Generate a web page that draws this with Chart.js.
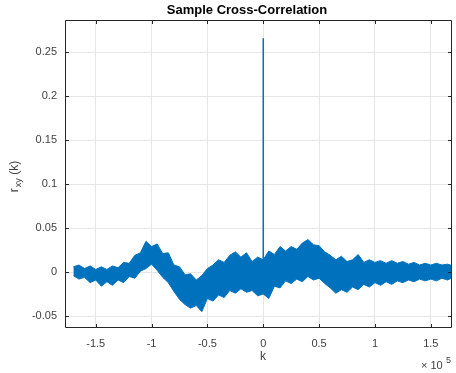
<!DOCTYPE html>
<html>
<head>
<meta charset="utf-8">
<script src="https://cdn.jsdelivr.net/npm/chart.js@4.4.1/dist/chart.umd.min.js"></script>
<style>
  html, body { margin: 0; padding: 0; background: #fff; }
  canvas { display: block; }
</style>
</head>
<body>
<canvas id="grafico" width="456" height="373"></canvas>
<script>
// lags in units of 1e5, envelope of r_xy(k)
const lags = [-1.70,-1.65,-1.60,-1.55,-1.50,-1.45,-1.40,-1.35,-1.30,-1.25,-1.20,-1.15,-1.10,-1.05,-1.00,-0.95,-0.90,-0.85,-0.80,-0.75,-0.70,-0.65,-0.60,-0.55,-0.50,-0.45,-0.40,-0.35,-0.30,-0.25,-0.20,-0.15,-0.10,-0.05,0.00,0.05,0.10,0.15,0.20,0.25,0.30,0.35,0.40,0.45,0.50,0.55,0.60,0.65,0.70,0.75,0.80,0.85,0.90,0.95,1.00,1.05,1.10,1.15,1.20,1.25,1.30,1.35,1.40,1.45,1.50,1.55,1.60,1.65,1.70];
const rUpper = [0.006,0.008,0.004,0.007,0.003,0.006,0.003,0.007,0.005,0.011,0.010,0.019,0.022,0.035,0.029,0.032,0.021,0.022,0.008,0.006,-0.003,-0.002,-0.009,-0.004,0.004,0.008,0.014,0.011,0.019,0.023,0.017,0.022,0.012,0.017,0.014,0.024,0.020,0.029,0.024,0.029,0.026,0.033,0.037,0.031,0.030,0.023,0.019,0.014,0.018,0.012,0.014,0.020,0.011,0.014,0.011,0.013,0.010,0.013,0.010,0.012,0.009,0.011,0.008,0.010,0.008,0.010,0.008,0.009,0.007];
const rLower = [-0.004,-0.008,-0.006,-0.012,-0.009,-0.016,-0.011,-0.015,-0.009,-0.012,-0.005,-0.007,0.001,0.004,0.009,0.002,-0.006,-0.012,-0.022,-0.031,-0.037,-0.041,-0.038,-0.045,-0.030,-0.033,-0.026,-0.029,-0.021,-0.024,-0.019,-0.023,-0.021,-0.027,-0.025,-0.030,-0.016,-0.018,-0.010,-0.013,-0.008,-0.011,-0.005,-0.009,-0.007,-0.013,-0.018,-0.024,-0.020,-0.023,-0.017,-0.020,-0.014,-0.017,-0.012,-0.015,-0.011,-0.014,-0.010,-0.012,-0.009,-0.011,-0.008,-0.010,-0.008,-0.010,-0.007,-0.009,-0.006];
// zero-lag peak
const picoLag = [0, 0];
const picoValor = [-0.025, 0.266];

const xTicks = [-1.5, -1, -0.5, 0, 0.5, 1, 1.5];
const yTicks = [-0.05, 0, 0.05, 0.1, 0.15, 0.2, 0.25];

const azul = '#0072BD';
const fonte = '"Liberation Sans", Arial, sans-serif';

const pontos = (xs, ys) => xs.map((x, i) => ({ x, y: ys[i] }));

// titulo, rotulos e marcas internas no estilo MATLAB
const extras = {
    id: 'extras',
    afterDraw(chart) {
        const { ctx, chartArea: a, scales } = chart;
        ctx.save();
        ctx.strokeStyle = '#262626';
        ctx.lineWidth = 1;
        ctx.beginPath();
        ctx.rect(a.left + 0.5, a.top + 0.5, a.right - a.left - 1, a.bottom - a.top - 1);
        ctx.stroke();
        ctx.beginPath();
        xTicks.forEach(v => {
            const px = Math.round(scales.x.getPixelForValue(v)) + 0.5;
            ctx.moveTo(px, a.bottom); ctx.lineTo(px, a.bottom - 4);
            ctx.moveTo(px, a.top); ctx.lineTo(px, a.top + 4);
        });
        yTicks.forEach(v => {
            const py = Math.round(scales.y.getPixelForValue(v)) + 0.5;
            ctx.moveTo(a.left, py); ctx.lineTo(a.left + 4, py);
            ctx.moveTo(a.right, py); ctx.lineTo(a.right - 4, py);
        });
        ctx.stroke();

        ctx.fillStyle = '#000';
        ctx.font = 'bold 13px ' + fonte;
        ctx.textAlign = 'center';
        ctx.textBaseline = 'middle';
        ctx.fillText('Sample Cross-Correlation', 247, 10);

        ctx.fillStyle = '#404040';
        ctx.font = '12px ' + fonte;
        ctx.fillText('k', 263, 357);

        ctx.font = '11px ' + fonte;
        ctx.textAlign = 'left';
        ctx.fillText('\u00d7 10', 421, 366);
        ctx.font = '9px ' + fonte;
        ctx.fillText('5', 446, 361);

        ctx.translate(15, 177);
        ctx.rotate(-Math.PI / 2);
        ctx.textAlign = 'left';
        ctx.font = '12px ' + fonte;
        const w1 = ctx.measureText('r').width;
        ctx.font = '9px ' + fonte;
        const w2 = ctx.measureText('xy').width;
        ctx.font = '12px ' + fonte;
        const w3 = ctx.measureText(' (k)').width;
        let x0 = -(w1 + w2 + w3) / 2;
        ctx.fillText('r', x0, 0);
        ctx.font = '9px ' + fonte;
        ctx.fillText('xy', x0 + w1 + 1, 4);
        ctx.font = '12px ' + fonte;
        ctx.fillText(' (k)', x0 + w1 + w2 + 1, 0);
        ctx.restore();
    }
};

new Chart(document.getElementById('grafico'), {
    type: 'line',
    data: {
        datasets: [
            {
                data: pontos(lags, rLower),
                borderColor: azul,
                borderWidth: 1,
                pointRadius: 0,
                fill: false
            },
            {
                data: pontos(lags, rUpper),
                borderColor: azul,
                backgroundColor: azul,
                borderWidth: 1,
                pointRadius: 0,
                fill: '-1'
            },
            {
                data: pontos(picoLag, picoValor),
                borderColor: azul,
                borderWidth: 1.5,
                pointRadius: 0,
                fill: false
            }
        ]
    },
    options: {
        responsive: false,
        animation: false,
        devicePixelRatio: 1,
        layout: { padding: { top: 20, right: 4, left: 0, bottom: 0 } },
        plugins: { legend: { display: false }, tooltip: { enabled: false } },
        scales: {
            x: {
                type: 'linear',
                min: -1.775,
                max: 1.69,
                afterFit: s => { s.height = 45; },
                border: { display: false },
                grid: { color: '#e5e5e5', drawTicks: false },
                ticks: {
                    stepSize: 0.5,
                    includeBounds: false,
                    padding: 9,
                    maxRotation: 0,
                    color: '#404040',
                    font: { family: fonte, size: 11 },
                    callback: v => xTicks.includes(+v.toFixed(2)) ? String(+v.toFixed(2)) : ''
                }
            },
            y: {
                min: -0.0636,
                max: 0.2867,
                afterFit: s => { s.width = 65; },
                border: { display: false },
                grid: { color: '#e5e5e5', drawTicks: false },
                ticks: {
                    stepSize: 0.05,
                    includeBounds: false,
                    padding: 8,
                    color: '#404040',
                    font: { family: fonte, size: 11 },
                    callback: v => String(+v.toFixed(3))
                }
            }
        }
    },
    plugins: [extras]
});
</script>
</body>
</html>
